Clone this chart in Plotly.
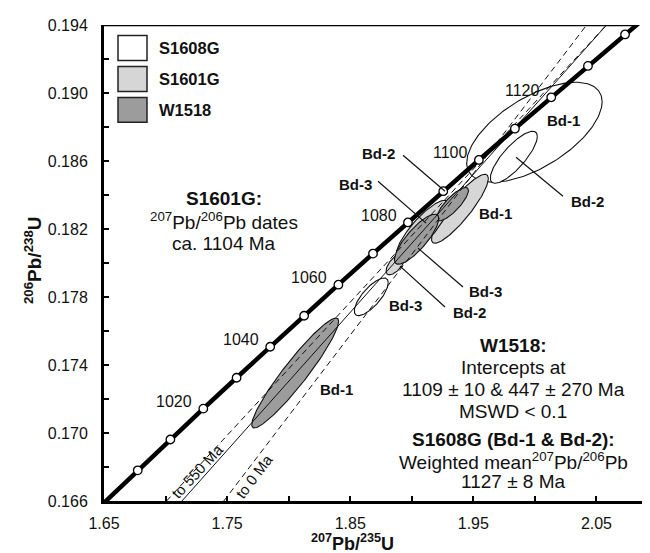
import numpy as np
import plotly.graph_objects as go

# ---------------- data ----------------
L238 = 1.55125e-10   # decay constants (1/yr)
L235 = 9.8485e-10

concordia_line_ages = [980, 990, 1000, 1010, 1020, 1030, 1040, 1050, 1060, 1070,
                       1080, 1090, 1100, 1110, 1120, 1130, 1140, 1150]
concordia_marker_ages = [1000, 1010, 1020, 1030, 1040, 1050, 1060, 1070,
                         1080, 1090, 1100, 1110, 1120, 1130, 1140]
concordia_label_ages = [1020, 1040, 1060, 1080, 1100, 1120]

# chords: upper intercept, lower intercept (Ma)
chord_upper = [1109, 1104, 1104]
chord_lower = [447, 550, 0]
chord_style = ["solid", "dash", "dash"]

# ellipses (2-sigma half widths, correlation)
ell_sample = ["S1608G", "S1608G", "S1608G",
              "S1601G", "S1601G", "S1601G",
              "W1518", "W1518", "W1518"]
ell_name = ["Bd-1", "Bd-2", "Bd-3", "Bd-1", "Bd-3", "Bd-2", "Bd-1", "Bd-2", "Bd-3"]
ell_x = [1.9996, 1.9829, 1.8671, 1.9391, 1.9087, 1.8868, 1.8053, 1.9331, 1.9039]
ell_sx = [0.0550, 0.0191, 0.01379, 0.02311, 0.02141, 0.00773, 0.03528, 0.01294, 0.0180]
ell_y = [0.18769, 0.18622, 0.17801, 0.18319, 0.18196, 0.17993, 0.17353, 0.18346, 0.18140]
ell_sy = [0.00294, 0.00153, 0.001107, 0.002026, 0.001729, 0.000627, 0.00323, 0.000981, 0.001474]
ell_rho = [0.61, 0.80, 0.75, 0.88, 0.84, 0.64, 0.94, 0.82, 0.82]

legend_samples = ["S1608G", "S1601G", "W1518"]
x_tick_vals = [1.65, 1.75, 1.85, 1.95, 2.05]
y_tick_vals = [0.166, 0.170, 0.174, 0.178, 0.182, 0.186, 0.190, 0.194]
X_RANGE = [1.65, 2.10]
Y_RANGE = [0.166, 0.194]

# ---------------- styles ----------------
FONT = "Liberation Sans, Arial, sans-serif"
fill_colors = {"S1608G": "#ffffff", "S1601G": "#d6d6d6", "W1518": "#9c9c9c"}
INK = "#111111"


def conc(t_ma):
    t = np.asarray(t_ma, dtype=float) * 1e6
    return np.exp(L235 * t) - 1.0, np.exp(L238 * t) - 1.0


fig = go.Figure()

# ellipses
order = ["S1608G", "S1601G", "W1518"]
th = np.linspace(0, 2 * np.pi, 180)
for s in order:
    for i in range(len(ell_x)):
        if ell_sample[i] != s:
            continue
        r = ell_rho[i]
        ex = ell_x[i] + ell_sx[i] * np.cos(th)
        ey = ell_y[i] + ell_sy[i] * (r * np.cos(th) + np.sqrt(1 - r * r) * np.sin(th))
        fig.add_trace(go.Scatter(x=ex, y=ey, mode="lines", fill="toself",
                                 fillcolor=fill_colors[s],
                                 line=dict(color=INK, width=1.1),
                                 hoverinfo="skip", showlegend=False))

# chords
for tu, tl, st in zip(chord_upper, chord_lower, chord_style):
    (x1, y1), (x2, y2) = conc(tu), conc(tl)
    m = (y1 - y2) / (x1 - x2)
    ys = np.array(Y_RANGE)
    xs = x2 + (ys - y2) / m
    fig.add_trace(go.Scatter(x=xs, y=ys, mode="lines",
                             line=dict(color=INK, width=1, dash="6px,4px" if st == "dash" else "solid"),
                             hoverinfo="skip", showlegend=False))

# concordia
cx, cy = conc(concordia_line_ages)
fig.add_trace(go.Scatter(x=cx, y=cy, mode="lines", line=dict(color="black", width=4.5),
                         hoverinfo="skip", showlegend=False))
mx, my = conc(concordia_marker_ages)
fig.add_trace(go.Scatter(x=mx, y=my, mode="markers",
                         marker=dict(size=8.5, color="white", line=dict(color="black", width=1.3)),
                         hoverinfo="skip", showlegend=False))

# concordia age labels
lx, ly = conc(concordia_label_ages)
ann = []
for a, xx, yy in zip(concordia_label_ages, lx, ly):
    ann.append(dict(x=xx, y=yy, xref="x", yref="y", text=str(a), showarrow=False,
                    xanchor="right", yanchor="middle", xshift=-9, yshift=7,
                    font=dict(family=FONT, size=16, color=INK)))

# pixel -> paper helpers (layout positioning)
L, R, T, B = 96, 650, 16.5, 493.3


def px(xp):
    return (xp - L) / (R - L)


def py(yp):
    return (B - yp) / (B - T)


def text(xp, yp, s, size, bold=False, angle=0, anchor="center"):
    ann.append(dict(x=px(xp), y=py(yp), xref="paper", yref="paper",
                    text=("<b>%s</b>" % s) if bold else s, showarrow=False,
                    xanchor=anchor, yanchor="middle", textangle=angle,
                    font=dict(family=FONT, size=size, color=INK)))


# text blocks
text(216, 190, "S1601G:", 19, True)
text(216, 213, "<sup>207</sup>Pb/<sup>206</sup>Pb dates", 19)
text(216, 235, "ca. 1104 Ma", 19)

text(505, 338, "W1518:", 19, True)
text(505, 360, "Intercepts at", 19)
text(505, 382, "1109 ± 10 & 447 ± 270 Ma", 19)
text(505, 404, "MSWD < 0.1", 19)
text(505, 432, "S1608G (Bd-1 & Bd-2):", 19, True)
text(505, 453, "Weighted mean<sup>207</sup>Pb/<sup>206</sup>Pb", 19)
text(505, 474, "1127 ± 8 Ma", 19)

# ellipse labels
bd_labels = [(555, 112, "Bd-1"), (579, 193, "Bd-2"), (487, 205, "Bd-1"),
             (370, 145, "Bd-2"), (347, 176, "Bd-3"), (477, 283, "Bd-3"),
             (461, 304, "Bd-2"), (397, 297, "Bd-3"), (328, 382, "Bd-1")]
for xp, yp, s in bd_labels:
    text(xp, yp, s, 15, True)

text(189, 464, "to 550 Ma", 15, angle=-47)
text(246, 469, "to 0 Ma", 15, angle=-53)

# axis titles
text(25, 252, "<sup>206</sup>Pb/<sup>238</sup>U", 19, True, angle=-90)
text(344, 535, "<sup>207</sup>Pb/<sup>235</sup>U", 18, True)

# legend
shapes = []
for k, s in enumerate(legend_samples):
    y0 = 27 + k * 31
    shapes.append(dict(type="rect", xref="paper", yref="paper",
                       x0=px(110), x1=px(139), y0=py(y0), y1=py(y0 + 25),
                       fillcolor=fill_colors[s], line=dict(color="#222222", width=1.5)))
    text(149, y0 + 13, s, 16.5, True, anchor="left")

# leader lines
leaders = [(508, 149, 555, 188), (395, 147, 437, 183), (370, 173, 418, 215),
           (410, 240, 455, 279), (392, 258, 437, 299)]
for x0, y0, x1, y1 in leaders:
    shapes.append(dict(type="line", xref="paper", yref="paper",
                       x0=px(x0), y0=py(y0), x1=px(x1), y1=py(y1),
                       line=dict(color=INK, width=1.2)))

# top frame line up to concordia
t_top = np.log(1 + Y_RANGE[1]) / L238 / 1e6
x_top = float(conc(t_top)[0])
shapes.append(dict(type="line", xref="x", yref="y", x0=X_RANGE[0], x1=x_top,
                   y0=Y_RANGE[1], y1=Y_RANGE[1], line=dict(color="black", width=2.5)))

fig.update_layout(
    width=650, height=553,
    margin=dict(l=L, r=0, t=T, b=553 - B, autoexpand=False),
    plot_bgcolor="white", paper_bgcolor="white",
    font=dict(family=FONT, size=16, color=INK),
    showlegend=False, annotations=ann, shapes=shapes,
    xaxis=dict(range=X_RANGE, tickvals=x_tick_vals, tickformat=".2f",
               showgrid=False, zeroline=False, showline=True, linewidth=3, linecolor="black",
               ticks="inside", ticklen=5, tickwidth=2, tickcolor="black",
               ticklabelstandoff=6,
               minor=dict(tick0=1.65, dtick=0.05, ticks="inside", ticklen=5, tickwidth=2,
                          tickcolor="black", showgrid=False),
               tickfont=dict(family=FONT, size=16, color=INK)),
    yaxis=dict(range=Y_RANGE, tickvals=y_tick_vals, tickformat=".3f",
               showgrid=False, zeroline=False, showline=True, linewidth=3, linecolor="black",
               ticks="inside", ticklen=5, tickwidth=2, tickcolor="black",
               ticklabelstandoff=10,
               minor=dict(tick0=0.166, dtick=0.002, ticks="inside", ticklen=5, tickwidth=2,
                          tickcolor="black", showgrid=False),
               tickfont=dict(family=FONT, size=16, color=INK)),
)

fig.write_html("out.html")
